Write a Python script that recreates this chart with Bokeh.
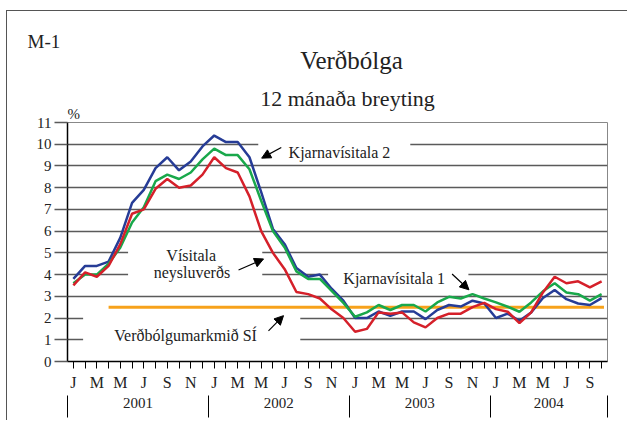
from bokeh.plotting import figure
from bokeh.models import FixedTicker, LinearAxis, Label, Arrow, NormalHead, Range1d
from bokeh.embed import file_html
from bokeh.resources import INLINE

# ---------------- data ----------------
# monthly index: Jan 2001 ... Oct 2004 (46 months)
months = list(range(46))
month_letters = ["J", "F", "M", "A", "M", "J", "J", "A", "S", "O", "N", "D"]
years = ["2001", "2002", "2003", "2004"]
year_start = [0, 12, 24, 36]
year_end = [11, 23, 35, 45]

kjarna2 = [3.8, 4.4, 4.4, 4.6, 5.7, 7.3, 7.9, 8.9, 9.4, 8.8, 9.2, 9.9,
           10.4, 10.1, 10.1, 9.4, 7.8, 6.1, 5.4, 4.3, 3.9, 4.0, 3.35, 2.8,
           2.0, 2.0, 2.3, 2.1, 2.3, 2.3, 1.95, 2.37, 2.6, 2.53, 2.8, 2.67,
           2.0, 2.2, 1.87, 2.26, 2.92, 3.29, 2.87, 2.67, 2.6, 2.92]
kjarna1 = [3.6, 4.0, 4.0, 4.5, 5.25, 6.4, 7.1, 8.3, 8.6, 8.4, 8.7, 9.3,
           9.8, 9.5, 9.5, 8.85, 7.4, 6.0, 5.25, 4.15, 3.8, 3.8, 3.25, 2.7,
           2.06, 2.26, 2.6, 2.37, 2.6, 2.6, 2.3, 2.72, 2.98, 2.9, 3.1, 2.9,
           2.72, 2.52, 2.29, 2.72, 3.23, 3.6, 3.18, 3.1, 2.8, 3.1]
neysluverd = [3.5, 4.1, 3.9, 4.4, 5.4, 6.8, 7.0, 7.95, 8.4, 8.0, 8.1, 8.6,
              9.4, 8.9, 8.7, 7.6, 6.0, 5.0, 4.25, 3.2, 3.1, 2.9, 2.4, 2.0,
              1.37, 1.5, 2.26, 2.2, 2.26, 1.8, 1.57, 2.0, 2.2, 2.2, 2.5, 2.7,
              2.41, 2.29, 1.77, 2.26, 3.18, 3.9, 3.6, 3.69, 3.41, 3.69]
target = 2.5
target_start = 3      # April 2001
target_end = 45.2

y_ticks = list(range(12))

# ---------------- figure ----------------
FONT = "Liberation Serif, Times New Roman, Times, Noto Serif, DejaVu Serif, serif"
TXT = "#222222"
GRID = "#5a5a5a"

p = figure(width=621, height=410, output_backend="svg", toolbar_location=None,
           x_range=Range1d(-0.5, 45.5), y_range=Range1d(0, 11),
           min_border_left=60, min_border_right=21, min_border_top=111,
           min_border_bottom=60, background_fill_color="white",
           border_fill_color="white", outline_line_color="#888888")
p.styles = {"margin-left": "6px", "margin-top": "10px",
            "border-top": "1px solid #555555", "border-left": "1px solid #555555"}

# y axis
yax = p.yaxis[0]
yax.ticker = FixedTicker(ticks=y_ticks)
yax.axis_line_color = "black"
yax.axis_line_width = 1.5
yax.major_tick_out = 13
yax.major_tick_in = 0
yax.major_tick_line_color = GRID
yax.major_tick_line_width = 1.3
yax.minor_tick_line_color = None
yax.major_label_standoff = 3
yax.major_label_text_font = FONT
yax.major_label_text_font_size = "15px"
yax.major_label_text_color = TXT

p.ygrid.ticker = FixedTicker(ticks=y_ticks)
p.ygrid.grid_line_color = GRID
p.ygrid.grid_line_width = 1.3
p.xgrid.visible = False

# x axis: months
xax = p.xaxis[0]
xax.ticker = FixedTicker(ticks=months)
overrides = {}
for m in months:
    overrides[m] = month_letters[m % 12] if m % 2 == 0 else ""
xax.major_label_overrides = overrides
xax.axis_line_color = "black"
xax.axis_line_width = 1.5
xax.major_tick_out = 7
xax.major_tick_in = 0
xax.major_tick_line_color = "black"
xax.minor_tick_line_color = None
xax.major_label_standoff = 5
xax.major_label_text_font = FONT
xax.major_label_text_font_size = "16px"
xax.major_label_text_color = TXT

# x axis: years with separators
year_mid = [(s + e) / 2 for s, e in zip(year_start, year_end)]
year_bounds = [s - 0.5 for s in year_start] + [year_end[-1] + 0.5]
yr_ax = LinearAxis(ticker=FixedTicker(ticks=year_mid, minor_ticks=year_bounds),
                   major_label_overrides={m: y for m, y in zip(year_mid, years)})
yr_ax.axis_line_color = None
yr_ax.major_tick_line_color = None
yr_ax.minor_tick_in = -2
yr_ax.minor_tick_out = 24
yr_ax.minor_tick_line_color = "black"
yr_ax.minor_tick_line_width = 1
yr_ax.major_label_standoff = -20
yr_ax.major_label_text_font = FONT
yr_ax.major_label_text_font_size = "15px"
yr_ax.major_label_text_color = TXT
p.add_layout(yr_ax, "below")

# white boxes that interrupt the gridlines behind the annotations
p.quad(left=[15.75, 4.66, 21.7, 0.83], right=[28.7, 16.09, 33.65, 19.33],
       bottom=[9.6, 3.6, 3.6, 0.6], top=[10.4, 5.4, 4.4, 2.4],
       fill_color="white", line_color=None)

# inflation target
p.line(x=[target_start, target_end], y=[target, target], line_color="#F7A21B", line_width=3)

# series
p.line(months, kjarna2, line_color="#263C96", line_width=2.5)
p.line(months, kjarna1, line_color="#19A84B", line_width=2.5)
p.line(months, neysluverd, line_color="#D5202A", line_width=2.5)

# texts inside the plot
def lab(x, y, text, size="16px", align="center"):
    p.add_layout(Label(x=x, y=y, text=text, text_font=FONT, text_font_size=size,
                       text_align=align, text_baseline="alphabetic", text_color=TXT))

lab(22.67, 9.62, "Kjarnavísitala 2")
lab(10.04, 4.87, "Vísitala")
lab(10.1, 4.1, "neysluverðs")
lab(27.33, 3.84, "Kjarnavísitala 1")
lab(9.56, 1.18, "Verðbólgumarkmið SÍ")

# texts above the plot (placed in the top panel, screen units)
def top_lab(x, y, text, size, align):
    p.add_layout(Label(x=x, y=y, x_units="screen", y_units="screen", text=text,
                       text_font=FONT, text_font_size=size, text_align=align,
                       text_baseline="alphabetic", text_color=TXT), "above")

top_lab(0, 9, "%", "15px", "left")
top_lab(280, 8, "12 mánaða breyting", "22px", "center")
top_lab(284, 21, "Verðbólga", "25px", "center")
top_lab(-40, 13, "M-1", "19px", "left")

# arrows
def arr(x0, y0, x1, y1):
    p.add_layout(Arrow(end=NormalHead(size=9, fill_color="black", line_color="black"),
                       x_start=x0, y_start=y0, x_end=x1, y_end=y1,
                       line_color="black", line_width=1.2))

arr(17.71, 9.85, 16.04, 9.36)
arr(14.07, 4.21, 16.2, 4.72)
arr(32.26, 4.03, 33.7, 3.3)
arr(16.62, 1.41, 17.9, 2.11)

open("out.html", "w").write(file_html(p, INLINE))
